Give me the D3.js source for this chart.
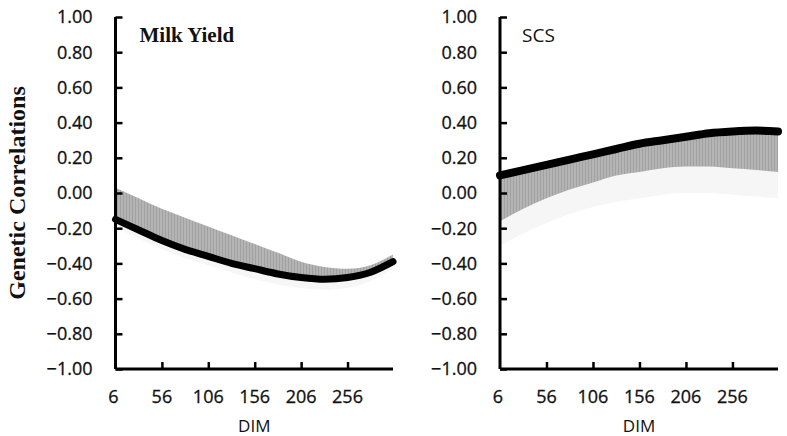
<!DOCTYPE html>
<html>
<head>
<meta charset="utf-8">
<script src="https://cdn.jsdelivr.net/npm/d3@7"></script>
<style>
  html, body { margin: 0; padding: 0; background: #fff; }
  svg { display: block; }
</style>
</head>
<body>
<svg id="chart" width="787" height="436"></svg>
<script>
// ---- data ----
const days = [6, 31, 56, 81, 106, 131, 156, 181, 206, 231, 256, 281, 305];
const xTicks = [6, 56, 106, 156, 206, 256];
const yTicks = [1.0, 0.8, 0.6, 0.4, 0.2, 0.0, -0.2, -0.4, -0.6, -0.8, -1.0];

// Milk Yield
const milkEstimate = [-0.15, -0.21, -0.27, -0.32, -0.36, -0.40, -0.43, -0.46, -0.48, -0.49, -0.48, -0.45, -0.39];
const milkBandUpper = [0.03, -0.03, -0.09, -0.14, -0.19, -0.24, -0.29, -0.34, -0.39, -0.42, -0.43, -0.41, -0.35];
const milkFaintLower = [-0.19, -0.26, -0.32, -0.37, -0.41, -0.45, -0.49, -0.52, -0.54, -0.55, -0.54, -0.50, -0.43];

// SCS
const scsEstimate = [0.10, 0.13, 0.16, 0.19, 0.22, 0.25, 0.28, 0.30, 0.32, 0.34, 0.35, 0.355, 0.35];
const scsBandLower = [-0.16, -0.09, -0.03, 0.02, 0.06, 0.10, 0.12, 0.14, 0.15, 0.15, 0.14, 0.13, 0.12];
const scsFaintLower = [-0.30, -0.23, -0.17, -0.12, -0.08, -0.05, -0.03, -0.01, 0.0, 0.0, -0.01, -0.02, -0.03];

const svg = d3.select("#chart");
const defs = svg.append("defs");
const pat = defs.append("pattern")
  .attr("id", "hatch").attr("patternUnits", "userSpaceOnUse")
  .attr("width", 3).attr("height", 10);
pat.append("rect").attr("width", 3).attr("height", 10).attr("fill", "#b4b4b4");
pat.append("line").attr("x1", 0.5).attr("x2", 0.5).attr("y1", 0).attr("y2", 10)
  .attr("stroke", "#9c9c9c").attr("stroke-width", 0.8);

const tickFont = "'Open Sans', sans-serif";

function panel(opts) {
  const x = d3.scaleLinear().domain([6, 305]).range([opts.left, opts.right]);
  const y = d3.scaleLinear().domain([-1, 1]).range([369, 17]);
  const g = svg.append("g");

  const rows = days.map((d, i) => ({ d, est: opts.est[i], band: opts.band[i], faint: opts.faint[i] }));
  const curve = d3.curveMonotoneX;

  // faint band
  g.append("path").datum(rows)
    .attr("fill", "#f6f6f6")
    .attr("d", d3.area().curve(curve).x(r => x(r.d)).y0(r => y(r.est)).y1(r => y(r.faint)));
  // gray hatched band
  g.append("path").datum(rows)
    .attr("fill", "url(#hatch)")
    .attr("d", d3.area().curve(curve).x(r => x(r.d)).y0(r => y(r.est)).y1(r => y(r.band)));
  // estimate line
  g.append("path").datum(rows)
    .attr("fill", "none").attr("stroke", "#000").attr("stroke-width", opts.lw)
    .attr("stroke-linecap", "round")
    .attr("d", d3.line().curve(curve).x(r => x(r.d)).y(r => y(r.est)));

  // y axis
  const ya = g.append("g").attr("transform", `translate(${opts.left},0)`)
    .call(d3.axisRight(y).tickValues(yTicks).tickSize(7).tickFormat(""));
  ya.select(".domain").attr("d", `M0,${y(1)}V${y(-1)}`).attr("stroke-width", 3);
  ya.selectAll(".tick line").attr("stroke-width", 2.5);
  // y labels
  g.append("g").selectAll("text").data(yTicks).join("text")
    .attr("x", opts.left - 23).attr("y", d => y(d)).attr("dy", "0.36em")
    .attr("text-anchor", "end")
    .style("font-family", tickFont).style("font-size", "18px").attr("fill", "#111")
    .attr("stroke", "#111").attr("stroke-width", 0.3)
    .text(d => d3.format(".2f")(d));

  // x axis
  const xa = g.append("g").attr("transform", `translate(0,${y(-1)})`)
    .call(d3.axisTop(x).tickValues(xTicks).tickSize(7).tickFormat(""));
  xa.select(".domain").attr("d", `M${opts.left},0H${opts.right}`).attr("stroke-width", 3);
  xa.selectAll(".tick line").attr("stroke-width", 2.5);
  xa.selectAll(".tick").filter(d => d === 6).remove();
  g.append("g").selectAll("text").data(xTicks).join("text")
    .attr("x", d => x(d) - (d === 6 ? 2 : 0)).attr("y", 403)
    .attr("text-anchor", "middle")
    .style("font-family", tickFont).style("font-size", "18px").attr("fill", "#111")
    .attr("stroke", "#111").attr("stroke-width", 0.3)
    .text(d => d);

  // x title
  g.append("text").attr("x", (opts.left + opts.right) / 2).attr("y", 432)
    .attr("text-anchor", "middle")
    .style("font-family", tickFont).style("font-size", "17px").attr("fill", "#111")
    .text("DIM");

  // panel label
  g.append("text").attr("x", opts.left + opts.labelDx).attr("y", 42)
    .style("font-family", opts.labelFont).style("font-size", opts.labelSize)
    .style("font-weight", opts.labelWeight).attr("fill", "#111")
    .text(opts.label);
}

panel({ left: 115.5, right: 393, est: milkEstimate, band: milkBandUpper, faint: milkFaintLower,
  lw: 7, label: "Milk Yield", labelDx: 24, labelFont: "'Liberation Serif', serif",
  labelSize: "21px", labelWeight: "bold" });
panel({ left: 500, right: 778, est: scsEstimate, band: scsBandLower, faint: scsFaintLower,
  lw: 8, label: "SCS", labelDx: 22, labelFont: tickFont, labelSize: "19px", labelWeight: "normal" });

// y title
svg.append("text")
  .attr("transform", "translate(25,193) rotate(-90)")
  .attr("text-anchor", "middle")
  .style("font-family", "'Liberation Serif', serif").style("font-size", "24px")
  .style("font-weight", "bold").attr("fill", "#111")
  .text("Genetic Correlations");
</script>
</body>
</html>
